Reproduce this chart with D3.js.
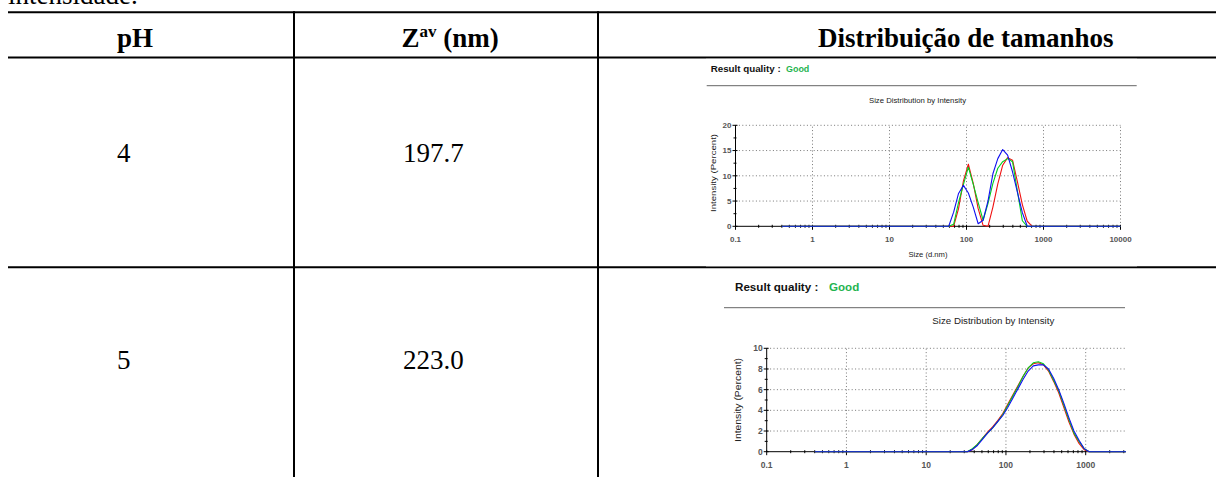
<!DOCTYPE html>
<html><head><meta charset="utf-8">
<script src="https://cdn.jsdelivr.net/npm/d3@7"></script>
<style>body{margin:0;background:#fff;overflow:hidden} svg{display:block}</style>
</head><body>
<svg id="c" width="1216" height="477"></svg>
<script>
// ---------- data ----------
const sizeBins = [0.4,0.4632,0.5365,0.6213,0.7195,0.8332,0.9649,1.117,1.294,1.499,1.736,2.01,2.328,2.696,3.122,3.615,4.187,4.849,5.615,6.503,7.531,8.721,10.1,11.7,13.54,15.69,18.17,21.04,24.36,28.21,32.67,37.84,43.82,50.75,58.77,68.06,78.82,91.28,105.7,122.4,141.8,164.2,190.1,220.2,255.0,295.3,342.0,396.1,458.7,531.2,615.1,712.4,825.0,955.4,1106,1281,1484,1718,1990,2305,2669,3091,3580,4145,4801,5560,6439,7456,8635,10000];

const ph4Red   = [0,0,0,0,0,0,0,0,0,0, 0,0,0,0,0,0,0,0,0,0, 0,0,0,0,0,0,0,0,0,0, 0,0,0,0,0,0, 3.5,9.0,12.3,8.5,3.5,0.2,0,3.8,8.4,12.1,13.6,13.1,8.8,4.3,1.0, 0,0,0,0,0,0,0,0,0,0, 0,0,0,0,0,0,0,0,0];
const ph4Green = [0,0,0,0,0,0,0,0,0,0, 0,0,0,0,0,0,0,0,0,0, 0,0,0,0,0,0,0,0,0,0, 0,0,0,0,0, 0.4,4.7,8.3,11.7,8.3,4.7,1.2,4.5,8.5,11.5,12.8,13.4,12.8,6.9,1.1, 0,0,0,0,0,0,0,0,0,0, 0,0,0,0,0,0,0,0,0,0];
const ph4Blue  = [0,0,0,0,0,0,0,0,0,0, 0,0,0,0,0,0,0,0,0,0, 0,0,0,0,0,0,0,0,0,0, 0,0,0,0,0, 2.8,6.5,8.1,6.6,3.8,0.5,1.2,5.0,10.4,13.4,15.2,14.1,10.8,6.7,2.7, 0,0,0,0,0,0,0,0,0,0, 0,0,0,0,0,0,0,0,0,0];

const ph5Red   = [0,0,0,0,0,0,0,0,0,0, 0,0,0,0,0,0,0,0,0,0, 0,0,0,0,0,0,0,0,0,0, 0, 0.2,0.7,1.3,1.9,2.4,3.0,3.7,4.6,5.5,6.4,7.3,8.1,8.5,8.6,8.4,7.8,6.8,5.7,4.3,2.9,1.7,0.8,0.2, 0,0,0,0,0,0,0,0,0,0, 0,0,0,0,0,0];
const ph5Green = [0,0,0,0,0,0,0,0,0,0, 0,0,0,0,0,0,0,0,0,0, 0,0,0,0,0,0,0,0,0,0, 0, 0.3,0.7,1.3,1.8,2.3,2.9,3.6,4.5,5.4,6.3,7.3,8.1,8.6,8.7,8.5,7.9,6.9,5.9,4.5,3.1,1.8,1.0,0.3, 0,0,0,0,0,0,0,0,0,0, 0,0,0,0,0,0];
const ph5Blue  = [0,0,0,0,0,0,0,0,0,0, 0,0,0,0,0,0,0,0,0,0, 0,0,0,0,0,0,0,0,0,0, 0, 0.2,0.6,1.2,1.8,2.3,2.9,3.5,4.3,5.2,6.1,7.0,7.8,8.3,8.4,8.4,8.0,7.1,6.0,4.7,3.3,2.0,1.1,0.3, 0,0,0,0,0,0,0,0,0,0, 0,0,0,0,0,0];

const xTickValues = [0.1,1,10,100,1000,10000];
const xTickLabels = ["0.1","1","10","100","1000","10000"];
const ph4YMajor = [0,5,10,15,20];
const ph4YMinor = [2.5,7.5,12.5,17.5];
const ph5YMajor = [0,2,4,6,8,10];
const ph5YMinor = [1,3,5,7,9];

const columnHeaders = ["pH", "Distribuição de tamanhos"];
const phValues = ["4","5"];
const zavValues = ["197.7","223.0"];
const qualityText = ["Result quality :", "Good"];
const chartTitle = "Size Distribution by Intensity";
const xAxisTitle = "Size (d.nm)";
const yAxisTitle = "Intensity (Percent)";

// ---------- drawing ----------
const svg = d3.select("#c");
const serif = "'Liberation Serif','Times New Roman',serif";
const sans = "'Liberation Sans',Arial,sans-serif";

// partial caption at top (cut off by the top edge, as in the reference)
svg.append("text").attr("x", 8).attr("y", 4).attr("font-family", serif).attr("font-size", 27).text("intensidade.");

// table lines
const tl = svg.append("g").attr("stroke", "#000").attr("stroke-width", 2);
tl.append("line").attr("x1", 8).attr("x2", 1216).attr("y1", 12.3).attr("y2", 12.3);
tl.append("line").attr("x1", 8).attr("x2", 1216).attr("y1", 57.6).attr("y2", 57.6);
tl.append("line").attr("x1", 8).attr("x2", 1216).attr("y1", 267.3).attr("y2", 267.3);
tl.append("line").attr("x1", 294).attr("x2", 294).attr("y1", 11.3).attr("y2", 477);
tl.append("line").attr("x1", 598).attr("x2", 598).attr("y1", 11.3).attr("y2", 477);

// header text
svg.append("text").attr("x", 117).attr("y", 47).attr("font-family", serif).attr("font-size", 27).attr("font-weight", "bold").text(columnHeaders[0]);
const zt = svg.append("text").attr("x", 401.5).attr("y", 47).attr("font-family", serif).attr("font-size", 27).attr("font-weight", "bold");
zt.append("tspan").text("Z");
zt.append("tspan").attr("font-size", 17).attr("dy", -10).text("av");
zt.append("tspan").attr("dy", 10).text(" (nm)");
svg.append("text").attr("x", 818).attr("y", 47).attr("font-family", serif).attr("font-size", 27).attr("font-weight", "bold").text(columnHeaders[1]);

// row text
const rowBase = [161.5, 369];
phValues.forEach((v, i) => {
  svg.append("text").attr("x", 117).attr("y", rowBase[i]).attr("font-family", serif).attr("font-size", 27).text(v);
  svg.append("text").attr("x", 403).attr("y", rowBase[i]).attr("font-family", serif).attr("font-size", 27).text(zavValues[i]);
});

function drawChart(cfg, series, yMajor, yMinor) {
  const g = svg.append("g");
  g.append("rect").attr("x", cfg.imgX).attr("y", cfg.imgY).attr("width", cfg.imgW).attr("height", cfg.imgH).attr("fill", "#fff");
  const clipId = "clip" + cfg.id;
  svg.append("clipPath").attr("id", clipId).append("rect")
    .attr("x", cfg.imgX).attr("y", cfg.imgY).attr("width", cfg.imgW).attr("height", cfg.imgH);
  const c = g.append("g").attr("clip-path", `url(#${clipId})`);

  const x = d3.scaleLog().domain([0.1, 10000]).range([cfg.x0, cfg.x0 + 5 * cfg.dec]);
  const y = d3.scaleLinear().domain([0, yMajor[yMajor.length - 1]]).range([cfg.y0, cfg.yTop]);
  const xEnd = Math.min(x(10000), cfg.axisEnd);

  // result quality
  c.append("text").attr("x", cfg.rqX).attr("y", cfg.rqY).attr("font-family", sans).attr("font-weight", "bold")
    .attr("font-size", cfg.rqF).attr("fill", "#111").attr("textLength", cfg.rqW).attr("lengthAdjust", "spacingAndGlyphs").text(qualityText[0]);
  c.append("text").attr("x", cfg.goodX).attr("y", cfg.rqY).attr("font-family", sans).attr("font-weight", "bold")
    .attr("font-size", cfg.rqF).attr("fill", "#1fb450").attr("textLength", cfg.goodW).attr("lengthAdjust", "spacingAndGlyphs").text(qualityText[1]);
  c.append("line").attr("x1", cfg.sepX1).attr("x2", cfg.sepX2).attr("y1", cfg.sepY).attr("y2", cfg.sepY).attr("stroke", "#666").attr("stroke-width", 1);
  c.append("text").attr("x", cfg.titleX).attr("y", cfg.titleY).attr("font-family", sans).attr("font-size", cfg.titleF)
    .attr("fill", "#222").attr("text-anchor", "middle").attr("textLength", cfg.titleW).attr("lengthAdjust", "spacingAndGlyphs").text(chartTitle);

  // grid
  const grid = c.append("g").attr("stroke", "#777").attr("stroke-width", 1).attr("stroke-dasharray", "1,2.4");
  xTickValues.slice(1).forEach(v => {
    if (x(v) <= cfg.axisEnd) grid.append("line").attr("x1", x(v)).attr("x2", x(v)).attr("y1", cfg.y0).attr("y2", cfg.yTop);
  });
  yMajor.slice(1).forEach(v => {
    grid.append("line").attr("x1", cfg.x0).attr("x2", xEnd).attr("y1", y(v)).attr("y2", y(v));
  });

  // axes
  const ax = c.append("g").attr("stroke", "#000").attr("stroke-width", 1);
  ax.append("line").attr("x1", cfg.x0).attr("x2", xEnd).attr("y1", cfg.y0).attr("y2", cfg.y0);
  ax.append("line").attr("x1", cfg.x0).attr("x2", cfg.x0).attr("y1", cfg.y0).attr("y2", cfg.yTop);
  yMajor.forEach(v => ax.append("line").attr("x1", cfg.x0 - 3).attr("x2", cfg.x0 + 2).attr("y1", y(v)).attr("y2", y(v)));
  yMinor.forEach(v => ax.append("line").attr("x1", cfg.x0 - 2).attr("x2", cfg.x0 + 1).attr("y1", y(v)).attr("y2", y(v)));
  x.ticks().forEach(v => {
    const px = x(v);
    if (px > cfg.axisEnd) return;
    const major = xTickValues.includes(v);
    ax.append("line").attr("x1", px).attr("x2", px).attr("y1", cfg.y0 - 1.5).attr("y2", cfg.y0 + (major ? 3.5 : 1.5));
  });

  // tick labels
  const tf = c.append("g").attr("font-family", sans).attr("font-size", cfg.tickF).attr("font-weight", "bold").attr("fill", "#555");
  xTickValues.forEach((v, i) => {
    if (x(v) <= cfg.axisEnd) tf.append("text").attr("x", x(v)).attr("y", cfg.xLabY).attr("text-anchor", "middle").text(xTickLabels[i]);
  });
  yMajor.forEach(v => tf.append("text").attr("x", cfg.x0 - 4).attr("y", y(v)).attr("dy", "0.35em").attr("text-anchor", "end").text(v));

  // axis titles
  if (cfg.xTitleY) c.append("text").attr("x", cfg.xTitleX).attr("y", cfg.xTitleY).attr("font-family", sans).attr("font-size", cfg.axTF)
    .attr("fill", "#222").attr("text-anchor", "middle").attr("textLength", cfg.xTitleW).attr("lengthAdjust", "spacingAndGlyphs").text(xAxisTitle);
  c.append("text").attr("transform", `translate(${cfg.yTitleX},${cfg.yTitleY}) rotate(-90)`).attr("font-family", sans).attr("font-size", cfg.axTF)
    .attr("fill", "#222").attr("text-anchor", "middle").attr("dy", "0.35em").attr("textLength", cfg.yTitleW).attr("lengthAdjust", "spacingAndGlyphs").text(yAxisTitle);

  // curves
  const line = d3.line().x((d, i) => x(sizeBins[i])).y(d => y(d));
  series.forEach(s => {
    c.append("path").datum(s.values).attr("d", line).attr("fill", "none").attr("stroke", s.color).attr("stroke-width", 1.1).attr("stroke-linejoin", "round");
  });
}

drawChart({
  id: 1, imgX: 706, imgY: 58.8, imgW: 431, imgH: 207.5,
  x0: 735.5, dec: 77, y0: 226.3, yTop: 125.3, axisEnd: 1121,
  rqX: 710.7, rqY: 71.5, rqF: 9, rqW: 70, goodX: 786, goodW: 23.3,
  sepX1: 706.7, sepX2: 1136.7, sepY: 85.7,
  titleX: 917.5, titleY: 102.5, titleF: 7.5, titleW: 97,
  tickF: 8, xLabY: 242,
  xTitleX: 928, xTitleY: 256.5, xTitleW: 39, axTF: 7.5,
  yTitleX: 713.5, yTitleY: 173, yTitleW: 78
}, [
  {values: ph4Red, color: "#f01010"},
  {values: ph4Green, color: "#00d020"},
  {values: ph4Blue, color: "#1010f0"}
], ph4YMajor, ph4YMinor);

drawChart({
  id: 2, imgX: 722, imgY: 270, imgW: 404, imgH: 207,
  x0: 766.7, dec: 79.75, y0: 451.7, yTop: 348.3, axisEnd: 1125,
  rqX: 735, rqY: 291, rqF: 11, rqW: 83.3, goodX: 829, goodW: 30.3,
  sepX1: 724, sepX2: 1125, sepY: 307.7,
  titleX: 993.3, titleY: 324.3, titleF: 8.5, titleW: 122,
  tickF: 8.5, xLabY: 468,
  xTitleY: null, axTF: 8.5,
  yTitleX: 738.5, yTitleY: 400, yTitleW: 84
}, [
  {values: ph5Red, color: "#f01010"},
  {values: ph5Green, color: "#00d020"},
  {values: ph5Blue, color: "#1010f0"}
], ph5YMajor, ph5YMinor);
</script>
</body></html>
